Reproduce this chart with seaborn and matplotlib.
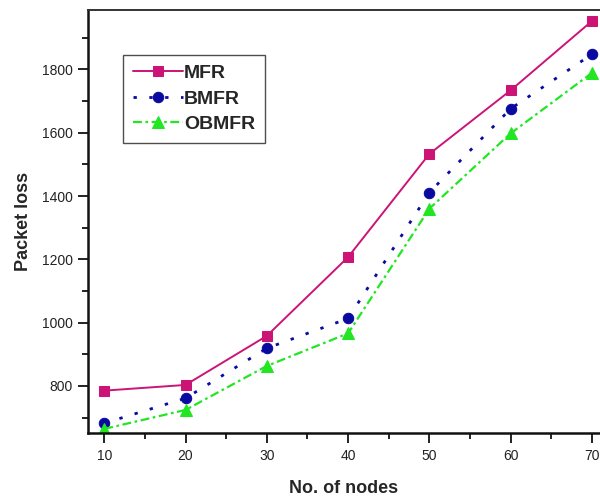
import matplotlib
matplotlib.use("Agg")
import matplotlib.pyplot as plt
from matplotlib.ticker import MultipleLocator
import seaborn as sns
import pandas as pd

# Packet loss versus number of nodes for the three routing schemes
nodes = [10, 20, 30, 40, 50, 60, 70]
mfr = [785, 803, 958, 1207, 1533, 1734, 1953]
bmfr = [682, 761, 919, 1013, 1411, 1676, 1848]
obmfr = [664, 724, 863, 966, 1360, 1598, 1789]
series_names = ["MFR", "BMFR", "OBMFR"]

sns.set_style("ticks")
plt.rcParams["font.family"] = ["Liberation Sans", "DejaVu Sans"]

df = pd.DataFrame({"nodes": nodes * 3,
                   "loss": mfr + bmfr + obmfr,
                   "scheme": sum([[n] * len(nodes) for n in series_names], [])})

styles = {
    "MFR": dict(color="#CC1477", marker="s", linestyle="-", linewidth=1.4, markersize=7),
    "BMFR": dict(color="#0A0AA0", marker="o", linestyle=(0, (1.2, 4.5)), linewidth=2.0, markersize=7.5),
    "OBMFR": dict(color="#22E622", marker="^", linestyle=(0, (4, 1.6, 1.2, 1.6)), linewidth=1.6, markersize=8.5),
}

fig = plt.figure(figsize=(6.0, 4.98), dpi=100)
ax = fig.add_axes([0.1467, 0.1311, 0.8533, 0.8488])

for name in series_names:
    sub = df[df["scheme"] == name]
    st = styles[name]
    sns.lineplot(data=sub, x="nodes", y="loss", ax=ax, label=name,
                 color=st["color"], marker=st["marker"], linestyle=st["linestyle"],
                 linewidth=st["linewidth"], markersize=st["markersize"],
                 markeredgecolor=st["color"], markerfacecolor=st["color"])

ax.set_xlim(8, 71)
ax.set_ylim(652, 1988)
ax.xaxis.set_major_locator(MultipleLocator(10))
ax.xaxis.set_minor_locator(MultipleLocator(5))
ax.yaxis.set_major_locator(MultipleLocator(200))
ax.yaxis.set_minor_locator(MultipleLocator(100))
ax.set_yticks(range(800, 1801, 200))

ax.tick_params(axis="both", which="major", direction="out", length=7, width=1.4,
               labelsize=10, pad=4, color="#222222", labelcolor="#222222")
ax.tick_params(axis="both", which="minor", direction="out", length=4, width=1.4, color="#222222")
ax.tick_params(axis="x", which="major", pad=5)

for side in ["left", "bottom"]:
    ax.spines[side].set_linewidth(1.8)
    ax.spines[side].set_color("#111111")
ax.spines["top"].set_visible(True)
ax.spines["top"].set_linewidth(1.4)
ax.spines["top"].set_color("#333333")
ax.spines["right"].set_visible(False)

ax.set_xlabel("No. of nodes", fontsize=13, fontweight="bold", labelpad=12)
ax.set_ylabel("Packet loss", fontsize=13, fontweight="bold", labelpad=7)

leg = ax.legend(loc="upper left", bbox_to_anchor=(0.068, 0.894), borderaxespad=0,
                prop={"weight": "bold", "size": 14}, frameon=True, fancybox=False,
                handlelength=2.6, handletextpad=0.05, labelspacing=0.4,
                borderpad=0.5)
leg.get_frame().set_edgecolor("#222222")
leg.get_frame().set_linewidth(1.0)

fig.savefig("out.png", dpi=100)
